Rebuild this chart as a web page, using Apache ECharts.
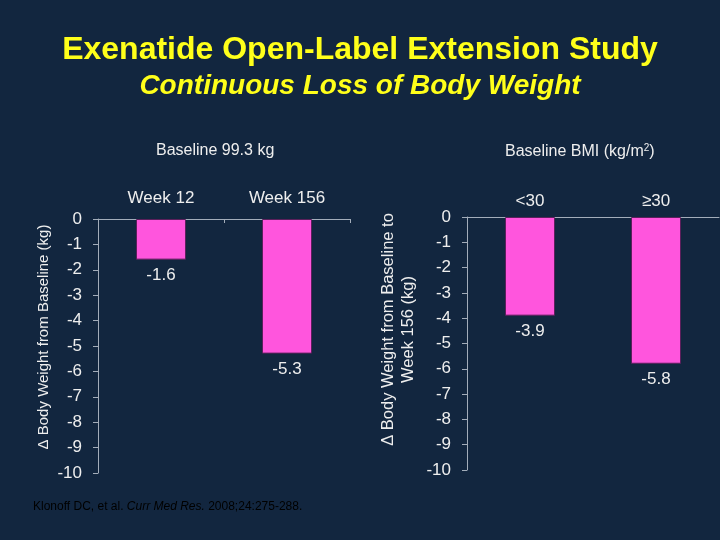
<!DOCTYPE html>
<html>
<head>
<meta charset="utf-8">
<script src="https://cdn.jsdelivr.net/npm/echarts@6/dist/echarts.min.js"></script>
<style>
  html, body { margin: 0; padding: 0; background: #12263f; }
  #chart { width: 720px; height: 540px; }
</style>
</head>
<body>
<div id="chart"></div>
<script>
// Data
const leftCategories = ['Week 12', 'Week 156'];
const leftValues = [-1.6, -5.3];
const rightCategories = ['<30', '≥30'];
const rightValues = [-3.9, -5.8];
const yMin = -10;
const yMax = 0;

const FONT = '"Liberation Sans", Arial, sans-serif';
const axisColor = '#a3adba';
const textColor = '#eeeeee';
const barColor = '#ff55dd';

const chart = echarts.init(document.getElementById('chart'));

function yAxis(gridIndex, name, nameGap, fontSize, shift) {
  return {
    type: 'value', gridIndex: gridIndex, min: yMin, max: yMax, interval: 1,
    name: name, nameLocation: 'middle', nameGap: nameGap, nameRotate: 90,
    nameTextStyle: { color: textColor, fontFamily: FONT, fontSize: fontSize, lineHeight: 20,
                     padding: [0, 0, 0, shift] },
    axisLine: { show: true, lineStyle: { color: axisColor, width: 1 } },
    axisTick: { show: true, length: 5, lineStyle: { color: axisColor } },
    axisLabel: { color: textColor, fontFamily: FONT, fontSize: 17, margin: 16 },
    splitLine: { show: false }
  };
}
function xAxis(gridIndex, cats, ticks, margin) {
  return {
    type: 'category', gridIndex: gridIndex, data: cats, position: 'top',
    axisLine: { show: true, onZero: false, lineStyle: { color: axisColor, width: 1 } },
    axisTick: { show: ticks, length: 4, inside: true, lineStyle: { color: axisColor } },
    axisLabel: { color: textColor, fontFamily: FONT, fontSize: 17, margin: margin }
  };
}
function barSeries(idx, values) {
  return {
    type: 'bar', xAxisIndex: idx, yAxisIndex: idx, data: values,
    barWidth: 50,
    itemStyle: { color: barColor, borderColor: '#5c1f5c', borderWidth: 1 },
    label: { show: true, position: 'bottom', distance: 7, color: textColor,
             fontFamily: FONT, fontSize: 17, formatter: p => p.value.toFixed(1) }
  };
}

chart.setOption({
  backgroundColor: '#12263f',
  animation: false,
  title: [
    { text: 'Exenatide Open-Label Extension Study', left: 'center', top: 29,
      textStyle: { color: '#ffff1a', fontFamily: FONT, fontWeight: 'bold', fontSize: 32 } },
    { text: 'Continuous Loss of Body Weight', left: 'center', top: 67,
      textStyle: { color: '#ffff1a', fontFamily: FONT, fontWeight: 'bold', fontStyle: 'italic', fontSize: 28 } }
  ],
  grid: [
    { left: 98, top: 219, width: 252, height: 254 },
    { left: 467, top: 217, width: 252, height: 253 }
  ],
  xAxis: [xAxis(0, leftCategories, true, 12), xAxis(1, rightCategories, false, 7)],
  yAxis: [
    yAxis(0, 'Δ Body Weight from Baseline (kg)', 44, 15, 18),
    yAxis(1, 'Δ Body Weight from Baseline to\nWeek 156 (kg)', 49, 16.5, 28)
  ],
  series: [barSeries(0, leftValues), barSeries(1, rightValues)],
  graphic: [
    { type: 'text', left: 156, top: 143,
      style: { text: 'Baseline 99.3 kg', fill: textColor, font: '16px ' + FONT } },
    { type: 'text', left: 505, top: 143,
      style: { text: '{a|Baseline BMI (kg/m}{s|2}{a|)}', fill: textColor,
        rich: { a: { fontFamily: FONT, fontSize: 16, fill: textColor, color: textColor },
                s: { fontFamily: FONT, fontSize: 10, verticalAlign: 'top', color: textColor, padding: [0,0,8,0] } } } },
    { type: 'text', left: 33, top: 501,
      style: { text: '{a|Klonoff DC, et al. }{i|Curr Med Res.}{a| 2008;24:275-288.}',
        rich: { a: { fontFamily: FONT, fontSize: 12, color: textColor },
                i: { fontFamily: FONT, fontSize: 12, fontStyle: 'italic', color: textColor } } } }
  ]
});
</script>
</body>
</html>
